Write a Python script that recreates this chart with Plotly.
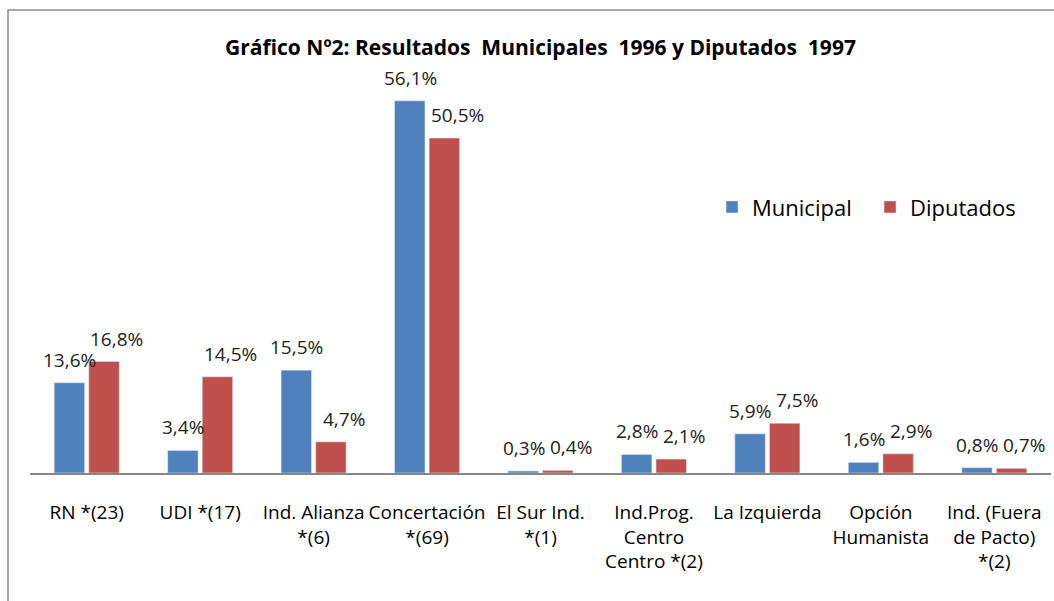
import plotly.graph_objects as go

categories = ["RN *(23)", "UDI *(17)", "Ind. Alianza<br>*(6)", "Concertación<br>*(69)",
              "El Sur Ind.<br>*(1)", "Ind.Prog.<br>Centro<br>Centro *(2)", "La Izquierda",
              "Opción<br>Humanista", "Ind. (Fuera<br>de Pacto)<br>*(2)"]
municipal = [13.6, 3.4, 15.5, 56.1, 0.3, 2.8, 5.9, 1.6, 0.8]
diputados = [16.8, 14.5, 4.7, 50.5, 0.4, 2.1, 7.5, 2.9, 0.7]

FONT = "Open Sans, sans-serif"
BLUE = "#4F81BD"
RED = "#C0504D"

def fmt(v):
    return f"{v:.1f}".replace(".", ",") + "%"

fig = go.Figure()
fig.add_trace(go.Bar(name="Municipal", x=categories, y=municipal, marker_color=BLUE))
fig.add_trace(go.Bar(name="Diputados", x=categories, y=diputados, marker_color=RED))

annotations = []
for c, v in zip(categories, municipal):
    annotations.append(dict(x=c, y=v, text=fmt(v), showarrow=False, xshift=-17, yshift=8,
                            yanchor="bottom", font=dict(family=FONT, size=19, color="#222")))
for c, v in zip(categories, diputados):
    annotations.append(dict(x=c, y=v, text=fmt(v), showarrow=False, xshift=30, yshift=8,
                            yanchor="bottom", font=dict(family=FONT, size=19, color="#222")))

fig.update_layout(
    width=1054, height=601,
    margin=dict(l=30, r=3, t=75, b=128, autoexpand=False),
    paper_bgcolor="white", plot_bgcolor="white",
    barmode="group", bargap=0.39, bargroupgap=0.12,
    title=dict(text="<b>Gráfico Nº2: Resultados  Municipales  1996 y Diputados  1997</b>",
               x=0.5, xref="paper", xanchor="center", y=1 - 48 / 601, yref="container",
               yanchor="middle", font=dict(family=FONT, size=21, color="black")),
    legend=dict(orientation="h", x=0.668, y=0.668, xanchor="left", yanchor="middle",
                font=dict(family=FONT, size=22, color="black"), bgcolor="rgba(0,0,0,0)",
                traceorder="normal", entrywidth=113, entrywidthmode="pixels"),
    xaxis=dict(showline=True, linecolor="#868686", linewidth=2, ticks="", showgrid=False,
               tickfont=dict(family=FONT, size=19, color="black"), ticklabelstandoff=21,
               tickangle=0, automargin=False),
    yaxis=dict(range=[0, 60], visible=False, showgrid=False, automargin=False),
    annotations=annotations,
    shapes=[dict(type="rect", xref="paper", yref="paper",
                 x0=(8 - 30) / 1021, x1=1.2, y0=-1, y1=(473 - 10) / 398,
                 line=dict(color="#8c8c8c", width=1.5), layer="below")],
)

fig.write_html("out.html", config={"displayModeBar": False},
               post_script="document.body.style.margin='0';")
